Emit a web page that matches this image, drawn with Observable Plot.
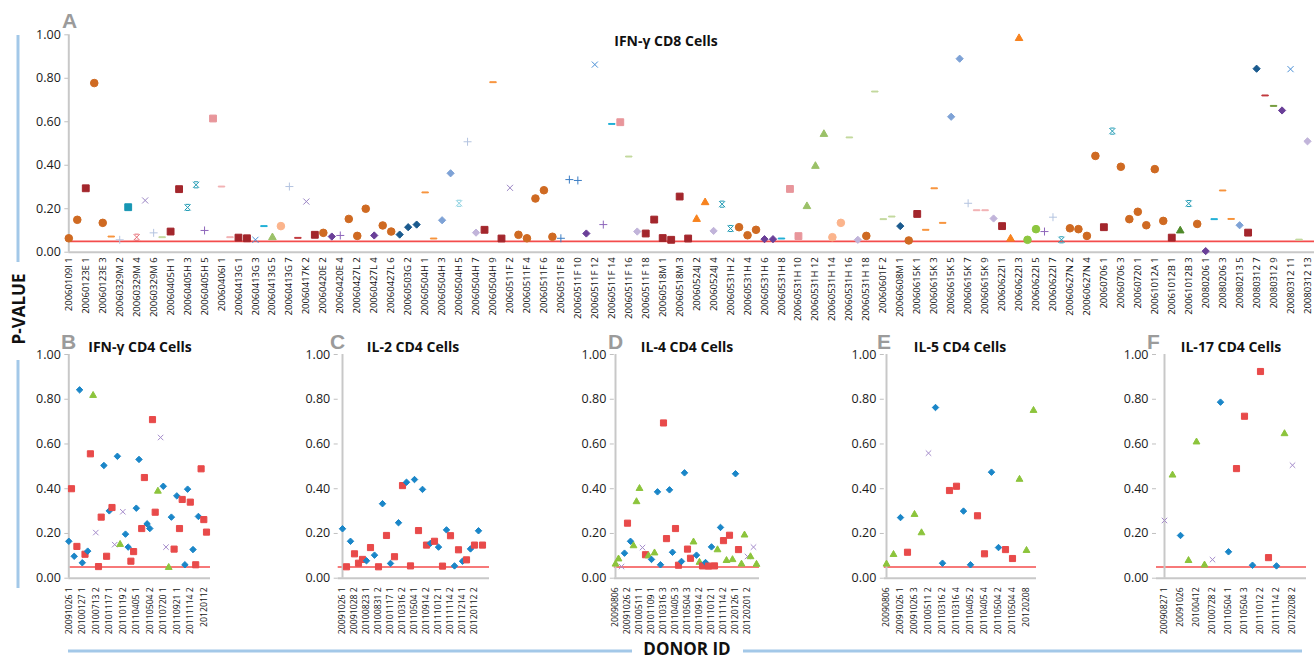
<!DOCTYPE html>
<html><head><meta charset="utf-8">
<script src="https://cdn.jsdelivr.net/npm/d3@7"></script>
<script src="https://cdn.jsdelivr.net/npm/@observablehq/plot@0.6"></script>
<style>
body{margin:0;background:#fff;}
#wrap{position:relative;width:1314px;height:661px;overflow:hidden;background:#fff;}
#wrap > svg{position:absolute;left:0;top:0;}
</style></head><body><div id="wrap"></div>
<script>
// ---------- Panel A: IFN-γ CD8 cells ----------
const aLabels = ["20060109I 1","20060123E 1","20060123E 3","20060329M 2","20060329M 4","20060329M 6","20060405H 1","20060405H 3","20060405H 5","20060406I 1","20060413G 1","20060413G 3","20060413G 5","20060413G 7","20060417K 2","20060420E 2","20060420E 4","20060427L 2","20060427L 4","20060427L 6","20060503G 2","20060504H 1","20060504H 3","20060504H 5","20060504H 7","20060504H 9","20060511F 2","20060511F 4","20060511F 6","20060511F 8","20060511F 10","20060511F 12","20060511F 14","20060511F 16","20060511F 18","20060518M 1","20060518M 3","20060524J 2","20060524J 4","20060531H 2","20060531H 4","20060531H 6","20060531H 8","20060531H 10","20060531H 12","20060531H 14","20060531H 16","20060531H 18","20060601F 2","20060608M 1","20060615K 1","20060615K 3","20060615K 5","20060615K 7","20060615K 9","20060622I 1","20060622I 3","20060622I 5","20060622I 7","20060627N 2","20060627N 4","20060706 1","20060706 3","20060720 1","20061012A 1","20061012B 1","20061012B 3","20080206 1","20080206 3","20080213 5","20080312 7","20080312 9","20080312 11","20080312 13"];
const aValues = [0.064,0.149,0.294,0.778,0.135,0.072,0.057,0.207,0.069,0.238,
0.089,0.069,0.095,0.29,0.206,0.31,0.10,0.615,0.302,0.069,
0.067,0.064,0.057,0.12,0.069,0.12,0.302,0.066,0.233,0.08,
0.089,0.072,0.077,0.153,0.075,0.20,0.077,0.123,0.095,0.081,
0.115,0.127,0.275,0.063,0.147,0.363,0.225,0.508,0.09,0.103,
0.782,0.063,0.296,0.08,0.064,0.247,0.285,0.071,0.064,0.334,
0.33,0.086,0.863,0.127,0.59,0.598,0.44,0.095,0.086,0.15,
0.065,0.057,0.256,0.063,0.153,0.23,0.098,0.221,0.109,0.115,
0.078,0.103,0.06,0.06,0.063,0.291,0.074,0.212,0.397,0.544,
0.069,0.135,0.528,0.057,0.075,0.739,0.152,0.164,0.12,0.054,
0.176,0.103,0.294,0.135,0.623,0.89,0.225,0.193,0.193,0.155,
0.12,0.063,0.985,0.057,0.106,0.095,0.161,0.057,0.11,0.106,
0.075,0.443,0.115,0.557,0.393,0.152,0.186,0.124,0.382,0.144,
0.067,0.10,0.224,0.13,0.005,0.152,0.284,0.153,0.124,0.09,
0.844,0.721,0.673,0.652,0.842,0.058,0.51];
const aSeries = [1,1,2,1,1,10,7,3,26,5,
7,11,2,2,25,25,8,4,12,12,
2,2,6,13,16,19,7,14,5,2,
1,21,8,1,1,1,21,1,1,22,
22,22,10,10,23,23,27,7,24,2,
10,2,5,1,1,1,1,1,9,9,
9,21,6,8,13,4,11,24,2,2,
2,2,2,2,17,17,24,25,25,1,
1,1,21,21,13,4,4,16,16,16,
19,19,11,24,1,11,11,11,22,1,
2,10,10,10,23,23,7,12,12,24,
2,17,17,20,20,8,7,25,1,1,
1,1,2,25,1,1,1,1,1,1,
2,18,25,1,21,13,10,10,23,2,
22,14,15,21,6,11,24];

// ---------- Panel B: IFN-γ CD4 ----------
const bLabels = ["20091026 1","20100127 1","20100713 2","20101117 1","20110119 2","20110405 1","20110504 2","20110720 1","20110921 1","20111114 2","20120112"];
const bValues = [0.165,0.40,0.098,0.142,0.842,0.069,0.107,0.121,0.556,0.818,
0.204,0.052,0.273,0.504,0.098,0.301,0.316,0.15,0.545,0.152,
0.297,0.197,0.139,0.076,0.119,0.313,0.531,0.222,0.45,0.243,
0.222,0.709,0.295,0.39,0.629,0.411,0.139,0.049,0.273,0.13,
0.368,0.222,0.352,0.06,0.398,0.34,0.128,0.06,0.276,0.489,
0.262,0.206];
const bSeries = ["P1","P2","P1","P2","P1","P1","P2","P1","P2","P3",
"P4","P2","P2","P1","P2","P1","P2","P4","P1","P3",
"P4","P1","P1","P2","P2","P1","P1","P2","P2","P1",
"P1","P2","P2","P3","P4","P1","P4","P3","P1","P2",
"P1","P2","P2","P1","P1","P2","P1","P2","P1","P2",
"P2","P2"];

// ---------- Panel C: IL-2 CD4 ----------
const cLabels = ["20091026 1","20091028 2","20100823 1","20100831 2","20101117 1","20110316 2","20110504 1","20110914 2","20111012 1","20111114 2","20111214 1","20120112 2"];
const cValues = [0.221,0.051,0.165,0.109,0.067,0.084,0.078,0.137,0.103,0.051,
0.333,0.191,0.066,0.096,0.248,0.414,0.429,0.055,0.441,0.213,
0.397,0.148,0.156,0.165,0.139,0.054,0.216,0.19,0.055,0.127,
0.076,0.082,0.131,0.148,0.212,0.148];
const cSeries = ["P1","P2","P1","P2","P2","P2","P1","P2","P1","P2",
"P1","P2","P1","P2","P1","P2","P1","P2","P1","P2",
"P1","P2","P1","P2","P1","P2","P1","P2","P1","P2",
"P1","P2","P1","P2","P1","P2"];

// ---------- Panel D: IL-4 CD4 ----------
const dLabels = ["20090806","20091026 2","20100511 1","20101109 1","20110316 3","20110405 3","20110504 3","20110914 2","20111012 1","20111114 2","20120126 1","20120201 2"];
const dValues = [0.064,0.087,0.052,0.112,0.246,0.165,0.146,0.343,0.402,0.137,
0.105,0.101,0.084,0.114,0.386,0.06,0.694,0.177,0.395,0.116,
0.222,0.058,0.075,0.471,0.13,0.089,0.163,0.103,0.072,0.055,
0.07,0.054,0.14,0.055,0.128,0.227,0.168,0.08,0.192,0.084,
0.467,0.128,0.064,0.194,0.097,0.097,0.139,0.063];
const dSeries = ["P3","P3","P4","P1","P2","P1","P3","P3","P3","P4",
"P2","P3","P1","P3","P1","P1","P2","P2","P1","P1",
"P2","P2","P1","P1","P2","P2","P3","P1","P3","P2",
"P1","P2","P1","P2","P3","P1","P2","P3","P2","P3",
"P1","P2","P3","P3","P4","P3","P4","P3"];

// ---------- Panel E: IL-5 CD4 ----------
const eLabels = ["20090806","20091026 1","20091026 3","20100511 2","20110316 2","20110316 4","20110405 2","20110405 4","20110504 2","20110504 4","20120208"];
const eValues = [0.064,0.107,0.271,0.116,0.286,0.204,0.559,0.763,0.067,0.392,
0.411,0.30,0.06,0.279,0.109,0.474,0.137,0.128,0.088,0.443,0.125,0.751];
const eSeries = ["P3","P3","P1","P2","P3","P3","P4","P1","P1","P2",
"P2","P1","P1","P2","P2","P1","P1","P2","P2","P3","P3","P3"];

// ---------- Panel F: IL-17 CD4 ----------
const fLabels = ["20090827 1","20091026","20100412","20100728 2","20110504 1","20110504 3","20111012 2","20111114 2","20120208 2"];
const fValues = [0.258,0.462,0.191,0.08,0.61,0.06,0.083,0.787,0.118,0.49,
0.724,0.058,0.924,0.092,0.055,0.647,0.505];
const fSeries = ["P4","P3","P1","P3","P3","P3","P4","P1","P1","P2",
"P2","P1","P2","P2","P1","P3","P4"];

const yTicks = [0,0.2,0.4,0.6,0.8,1];

// ---------- symbols ----------
const rad = s => Math.sqrt(s/Math.PI);
const symDash = {draw(c,s){const r=rad(s); c.moveTo(-r*0.85,-r*0.12); c.lineTo(r*0.85,-r*0.12); c.lineTo(r*0.85,r*0.12); c.lineTo(-r*0.85,r*0.12); c.closePath();}};
const symPlus = {draw(c,s){const r=rad(s)*1.05; c.moveTo(-r,0); c.lineTo(r,0); c.moveTo(0,-r); c.lineTo(0,r);}};
const symTimes = {draw(c,s){const r=rad(s)*0.8; c.moveTo(-r,-r); c.lineTo(r,r); c.moveTo(-r,r); c.lineTo(r,-r);}};
const symStar = {draw(c,s){const r=rad(s)*0.8; c.moveTo(-r,-r); c.lineTo(r,r); c.moveTo(-r,r); c.lineTo(r,-r); c.moveTo(-r*0.7,-r); c.lineTo(r*0.7,-r); c.moveTo(-r*0.7,r); c.lineTo(r*0.7,r);}};
const symDiamond = {draw(c,s){const r=rad(s)*0.95; c.moveTo(0,-r); c.lineTo(r,0); c.lineTo(0,r); c.lineTo(-r,0); c.closePath();}};
const symTri = {draw(c,s){const r=rad(s); c.moveTo(0,-r*1.1); c.lineTo(r*1.0,r*0.65); c.lineTo(-r*1.0,r*0.65); c.closePath();}};
const symSquare = {draw(c,s){const h=rad(s)*0.9; c.rect(-h,-h,2*h,2*h);}};
const symCircle = {draw(c,s){const r=rad(s); c.moveTo(r,0); c.arc(0,0,r,0,2*Math.PI);}};

const aDomain = d3.range(1,28);
const aColors = ["#cf6a22","#a3262c","#1796b3","#e8969b","#9a84c4","#4a8fd6","#b4c4e0","#8e66bb","#3b7dc4",
"#f7923a","#c2d89c","#f2b0b2","#1eafd6","#c0373c","#739a3a","#9bc168","#f7821e","#4e8a2a","#fbb48c","#8dc63f",
"#6a3f98","#1a5a8e","#7ea2d6","#c1b4da","#1e9ab4","#e66a72","#88d0e0"];
const aSymbols = [symCircle,symSquare,symSquare,symSquare,symTimes,symTimes,symPlus,symPlus,symPlus,
symDash,symDash,symDash,symDash,symDash,symDash,symTri,symTri,symTri,symCircle,symCircle,
symDiamond,symDiamond,symDiamond,symDiamond,symStar,symStar,symStar];

const pDomain = ["P1","P2","P3","P4"];
const pColors = ["#1a86c8","#e84a4a","#8cc43c","#a58ccb"];
const pSymbols = [symDiamond,symSquare,symTri,symTimes];

const FONT = "'Open Sans', 'Noto Sans', sans-serif";

function panel(o){
  const n = o.values.length;
  const idx = d3.range(n);
  const data = idx.map(i => ({i, v: o.values[i], s: o.series[i]}));
  const ticks = o.labels.map((_, k) => k*o.every);
  return Plot.plot({
    width: 1314, height: 661,
    marginLeft: o.x0, marginRight: 1314 - o.xEnd, marginTop: o.yTop, marginBottom: 661 - o.yBot,
    style: {background: "transparent", fontFamily: FONT, overflow: "visible"},
    x: {type: "point", domain: idx, range: [o.x0, o.x1], padding: 0, label: null},
    y: {domain: [0, 1], label: null},
    color: {type: "ordinal", domain: o.domain, range: o.colors},
    symbol: {domain: o.domain, range: o.symbols},
    marks: [
      Plot.ruleY([0.05], {stroke: "#f44c4c", strokeWidth: 1.6}),
      Plot.ruleY([0], {stroke: "#c8c8c8", strokeWidth: 2}),
      Plot.ruleX([0], {stroke: "#c8c8c8", strokeWidth: 2}),
      Plot.axisY({ticks: yTicks, tickFormat: d => d.toFixed(2), tickSize: 4, tickPadding: 4, fontSize: 12.5, fill: "#1a1a1a", stroke: "#c0c0c0", label: null}),
      Plot.axisX({ticks, tickFormat: i => o.labels[i / o.every], tickRotate: -90, tickSize: 0, tickPadding: o.tickPad, fontSize: o.tickFont, fill: "#111", label: null}),
      Plot.dot(data, {x: "i", y: "v", symbol: "s", fill: "s", stroke: "s", r: o.r, strokeWidth: 1})
    ]
  });
}

const wrap = document.getElementById("wrap");
const common = {tickFont: 8.7, tickPad: 9, r: 3.4, domain: pDomain, colors: pColors, symbols: pSymbols, yTop: 354, yBot: 577.7};
const panels = [
  {values: aValues, series: aSeries, labels: aLabels, every: 2, x0: 68.3, x1: 1307, xEnd: 1314, yTop: 34.3, yBot: 251.7,
   tickFont: 9.5, tickPad: 5, r: 3.8, domain: aDomain, colors: aColors, symbols: aSymbols},
  {...common, values: bValues, series: bSeries, labels: bLabels, every: 5, x0: 68.3, x1: 206, xEnd: 210},
  {...common, values: cValues, series: cSeries, labels: cLabels, every: 3, x0: 337.7, x1: 485.7, xEnd: 489},
  {...common, values: dValues, series: dSeries, labels: dLabels, every: 4, x0: 613.8, x1: 757, xEnd: 759},
  {...common, values: eValues, series: eSeries, labels: eLabels, every: 2, x0: 883.8, x1: 1034.3, xEnd: 1036},
  {...common, values: fValues, series: fSeries, labels: fLabels, every: 2, x0: 1156, x1: 1299.7, xEnd: 1306}
];
for (const p of panels) wrap.appendChild(panel(p));

// ---------- decorations: titles, panel letters, axis titles ----------
const svg = d3.select(wrap).append("svg").attr("width", 1314).attr("height", 661)
  .style("font-family", FONT);
const blue = "#a3c8e8";
[[18,35,18,262],[18,360,18,588],[68,651,632,651],[743,651,1302,651]].forEach(([x1,y1,x2,y2]) =>
  svg.append("line").attr("x1",x1).attr("y1",y1).attr("x2",x2).attr("y2",y2)
    .attr("stroke", blue).attr("stroke-width", 3));

const titles = [
  {t: "IFN-γ CD8 Cells", x: 666, y: 46},
  {t: "IFN-γ CD4 Cells", x: 140, y: 352},
  {t: "IL-2 CD4 Cells", x: 413, y: 352},
  {t: "IL-4 CD4 Cells", x: 687, y: 352},
  {t: "IL-5 CD4 Cells", x: 960, y: 352},
  {t: "IL-17 CD4 Cells", x: 1231, y: 352}
];
titles.forEach(d => svg.append("text").attr("x", d.x).attr("y", d.y).attr("text-anchor", "middle")
  .attr("font-size", 14).attr("font-weight", 700).attr("fill", "#111").text(d.t));

const letters = [["A",62,28],["B",61,349],["C",330,349],["D",608,349],["E",877,349],["F",1147,349]];
letters.forEach(([t,x,y]) => svg.append("text").attr("x", x).attr("y", y)
  .attr("font-family", "'Liberation Sans', Arial, sans-serif").attr("font-size", 21).attr("font-weight", 700)
  .attr("fill", "#9b9b9b").text(t));

svg.append("text").attr("transform", "translate(25,309) rotate(-90)").attr("text-anchor", "middle")
  .attr("font-size", 17).attr("font-weight", 700).attr("fill", "#111").text("P-VALUE");
svg.append("text").attr("x", 687).attr("y", 655).attr("text-anchor", "middle")
  .attr("font-size", 17).attr("font-weight", 700).attr("fill", "#111").text("DONOR ID");
</script></body></html>
